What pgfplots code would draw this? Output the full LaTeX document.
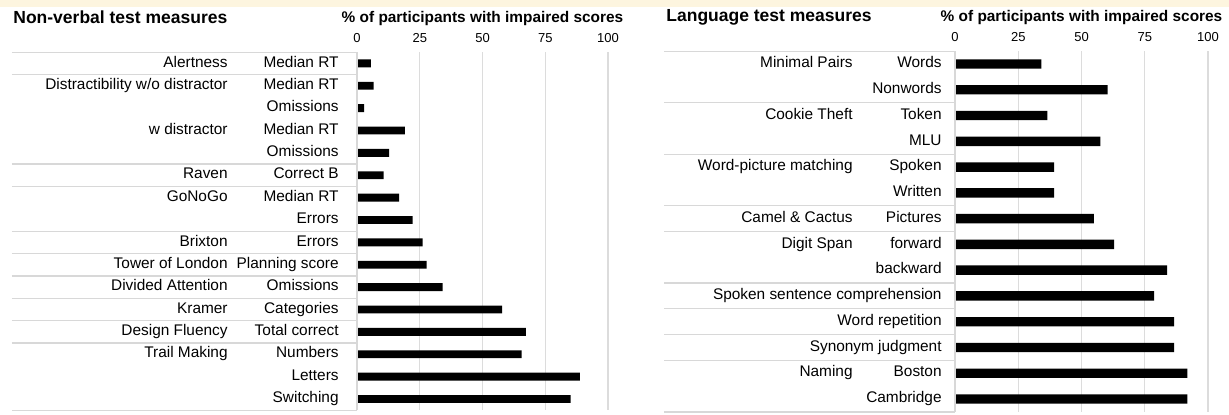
\documentclass[border=0pt]{standalone}
\usepackage{fontspec}
\setmainfont{Liberation Sans}
\usepackage{pgfplots}
\pgfplotsset{compat=1.18}
\definecolor{band}{HTML}{FDF5DF}
\definecolor{sep}{HTML}{D8D8D8}
\definecolor{grd}{HTML}{DCDCDC}
\newcommand{\lab}{\fontsize{7.7}{9}\selectfont}
\newcommand{\ttl}{\fontsize{8.75}{10}\selectfont\bfseries}
\newcommand{\axl}{\fontsize{7.7}{9}\selectfont\bfseries}
\newcommand{\tck}{\fontsize{6.5}{7.5}\selectfont}
\tikzset{rowlab/.style={anchor=east, font=\lab, inner sep=0pt, text height=5.3pt, text depth=1.6pt}}
\pgfplotsset{
  panel/.style={
    scale only axis, anchor=south west,
    xbar, xmin=0, xmax=100, y dir=reverse,
    axis line style={draw=none},
    xtick={0,25,50,75,100}, xticklabel pos=upper,
    major tick length=0pt,
    xmajorgrids, grid style={grd, line width=0.6pt},
    yticklabel style={rowlab},
    xticklabel style={font=\tck, anchor=center, inner sep=0pt, yshift=7pt},
    xlabel={\% of participants with impaired scores},
    xlabel style={font=\axl, at={(axis description cs:0.5,1)}, anchor=center, yshift=17pt},
    clip=false,
    /pgf/number format/assume math mode=true,
  }
}
\begin{document}
\begin{tikzpicture}
\useasboundingbox (0,0) rectangle (614.5pt,207pt);
\fill[band] (0,203.5pt) rectangle (614.5pt,207pt);
\node[anchor=west, font=\ttl, inner sep=0pt] at (6.5pt,198.5pt) {Non-verbal test measures};
\node[anchor=west, font=\ttl, inner sep=0pt] at (333pt,198.5pt) {Language test measures};

\begin{axis}[panel,
  at={(178.5pt,1.9pt)}, width=125.5pt, height=179pt,
  bar width=3.9pt, ymin=0.5, ymax=16.5,
  ytick={1,...,16},
  yticklabels={Median RT, Median RT, Omissions, Median RT, Omissions, Correct B, Median RT, Errors, Errors, Planning score, Omissions, Categories, Total correct, Numbers, Letters, Switching},
  yticklabel style={xshift=-9pt},
]
\addplot[fill=black, draw=none] coordinates {
(5.5,1) (6.6,2) (2.8,3) (19.1,4) (12.8,5) (10.6,6) (16.8,7) (22.2,8)
(26.1,9) (27.7,10) (34.1,11) (57.8,12) (67.3,13) (65.6,14) (88.8,15) (85.1,16)};
\pgfplotsinvokeforeach{0.5,1.5,5.5,6.5,8.5,9.5,10.5,11.5,12.5,13.5,16.5}{
  \draw[sep, line width=0.6pt] ([xshift=-172.5pt]axis cs:0,#1) -- (axis cs:0,#1);
}
\draw[sep, line width=0.6pt] (axis cs:0,0.5) -- (axis cs:0,16.5);
\node[rowlab] at ([xshift=-64.5pt]axis cs:0,1) {Alertness};
\node[rowlab] at ([xshift=-64.5pt]axis cs:0,2) {Distractibility w/o distractor};
\node[rowlab] at ([xshift=-64.5pt]axis cs:0,4) {w distractor};
\node[rowlab] at ([xshift=-64.5pt]axis cs:0,6) {Raven};
\node[rowlab] at ([xshift=-64.5pt]axis cs:0,7) {GoNoGo};
\node[rowlab] at ([xshift=-64.5pt]axis cs:0,9) {Brixton};
\node[rowlab] at ([xshift=-64.5pt]axis cs:0,10) {Tower of London};
\node[rowlab] at ([xshift=-64.5pt]axis cs:0,11) {Divided Attention};
\node[rowlab] at ([xshift=-64.5pt]axis cs:0,12) {Kramer};
\node[rowlab] at ([xshift=-64.5pt]axis cs:0,13) {Design Fluency};
\node[rowlab] at ([xshift=-64.5pt]axis cs:0,14) {Trail Making};
\end{axis}

\begin{axis}[panel,
  at={(477.5pt,1.05pt)}, width=126.5pt, height=180.4pt,
  bar width=4.7pt, ymin=0.5, ymax=14.5,
  ytick={1,...,14},
  yticklabels={Words, Nonwords, Token, MLU, Spoken, Written, Pictures, forward, backward, Spoken sentence comprehension, Word repetition, Synonym judgment, Boston, Cambridge},
  yticklabel style={xshift=-6.5pt},
]
\addplot[fill=black, draw=none] coordinates {
(34.1,1) (60.3,2) (36.5,3) (57.5,4) (39.2,5) (39.2,6) (54.9,7)
(62.9,8) (83.8,9) (78.7,10) (86.6,11) (86.6,12) (91.8,13) (91.8,14)};
\pgfplotsinvokeforeach{0.5,2.5,4.5,6.5,7.5,9.5,10.5,11.5,12.5,14.5}{
  \draw[sep, line width=0.6pt] ([xshift=-145.5pt]axis cs:0,#1) -- (axis cs:0,#1);
}
\draw[sep, line width=0.6pt] (axis cs:0,0.5) -- (axis cs:0,14.5);
\node[rowlab] at ([xshift=-51pt]axis cs:0,1) {Minimal Pairs};
\node[rowlab] at ([xshift=-51pt]axis cs:0,3) {Cookie Theft};
\node[rowlab] at ([xshift=-51pt]axis cs:0,5) {Word-picture matching};
\node[rowlab] at ([xshift=-51pt]axis cs:0,7) {Camel \& Cactus};
\node[rowlab] at ([xshift=-51pt]axis cs:0,8) {Digit Span};
\node[rowlab] at ([xshift=-51pt]axis cs:0,13) {Naming};
\end{axis}
\end{tikzpicture}
\end{document}
